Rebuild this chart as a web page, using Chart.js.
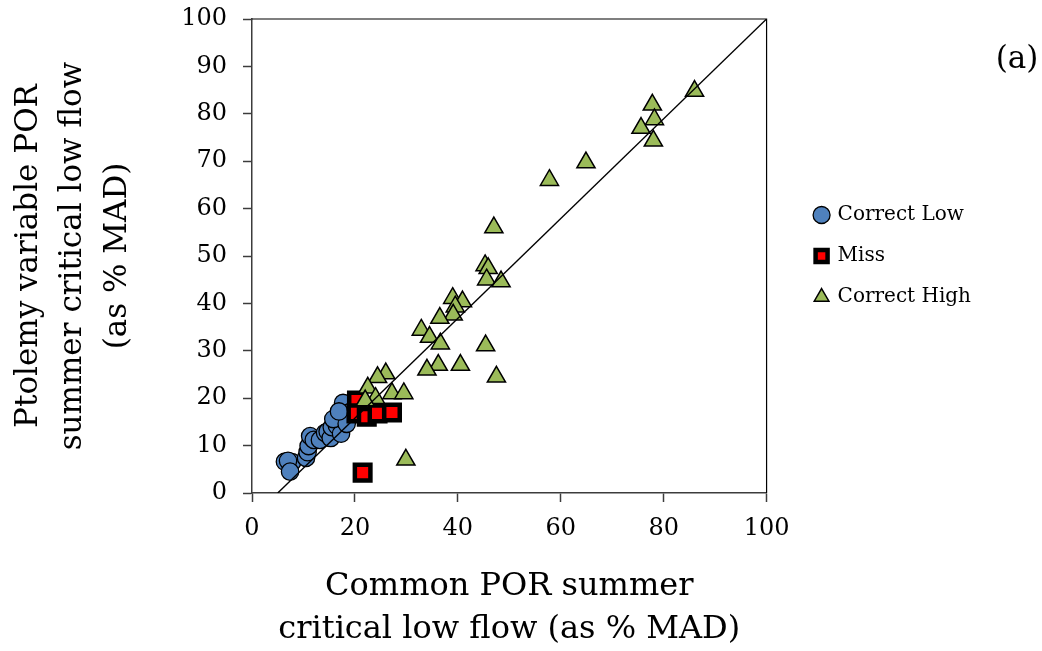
<!DOCTYPE html>
<html>
<head>
<meta charset="utf-8">
<script src="https://cdn.jsdelivr.net/npm/chart.js@4.4.1/dist/chart.umd.min.js"></script>
<style>
  html, body { margin: 0; padding: 0; background: #fff; }
  #wrap { width: 1042px; height: 651px; }
</style>
</head>
<body>
<div id="wrap"><canvas id="c" width="1042" height="651"></canvas></div>
<script>
// Critical low flow, % of mean annual discharge: common POR (x) vs Ptolemy variable POR (y)
const correctLowX = [6.4, 7.8, 7.0, 7.4, 10.5, 10.8, 11.0, 11.3, 12.0, 13.2, 14.2, 14.7, 15.3, 15.5, 16.5, 17.3, 17.5, 15.8, 17.9, 17.7, 18.6, 18.4, 16.9];
const correctLowY = [6.6, 6.5, 6.8, 4.5, 7.4, 8.6, 9.9, 12.0, 11.2, 11.2, 12.7, 13.0, 11.6, 13.9, 14.2, 12.5, 15.6, 15.6, 17.5, 19.0, 16.9, 14.6, 17.2];

const missX = [20.4, 20.3, 22.3, 24.4, 27.2, 21.5];
const missY = [19.5, 16.8, 16.1, 16.8, 17.0, 4.3];

const correctHighX = [86.0, 77.8, 78.2, 75.6, 78.0, 64.9, 57.8, 47.0, 45.3, 45.9, 45.6, 48.4, 39.0, 40.9, 39.5, 39.1, 36.5, 32.9, 34.5, 36.6, 45.4, 36.2, 34.0, 40.5, 47.5, 26.0, 24.4, 22.5, 27.2, 29.5, 24.0, 22.0, 29.9];
const correctHighY = [84.8, 81.9, 78.8, 77.0, 74.3, 69.7, 66.0, 56.0, 48.0, 47.4, 45.0, 44.6, 41.1, 40.4, 39.3, 37.6, 36.9, 34.4, 32.9, 31.5, 31.1, 27.0, 26.0, 27.0, 24.5, 25.2, 24.4, 22.2, 21.0, 21.0, 20.0, 19.5, 7.0];

// reference line end points
const refLineX = [5, 100];
const refLineY = [0, 100];

const seriesNames = ['Correct Low', 'Miss', 'Correct High'];
const xTickValues = [0, 20, 40, 60, 80, 100];
const yTickValues = [0, 10, 20, 30, 40, 50, 60, 70, 80, 90, 100];

const pairs = (xs, ys) => xs.map((x, i) => ({ x: x, y: ys[i] }));

const serif = '"DejaVu Serif", "Liberation Serif", serif';
const axisColor = '#3c3c3c';

// panel tag in the top-right corner
const panelLabel = {
  id: 'panelLabel',
  afterDraw(chart) {
    const ctx = chart.ctx;
    ctx.save();
    ctx.font = '31px ' + serif;
    ctx.fillStyle = '#000';
    ctx.textAlign = 'center';
    ctx.textBaseline = 'middle';
    ctx.fillText('(a)', 1017, 60);
    ctx.restore();
  }
};

// closes the plot box with top and right edges
const plotFrame = {
  id: 'plotFrame',
  beforeDatasetsDraw(chart) {
    const { ctx, chartArea: a } = chart;
    ctx.save();
    ctx.strokeStyle = '#000';
    ctx.lineWidth = 1.2;
    ctx.beginPath();
    ctx.moveTo(a.left, a.top);
    ctx.lineTo(a.right, a.top);
    ctx.lineTo(a.right, a.bottom);
    ctx.stroke();
    ctx.restore();
  }
};

// leaves a gap between the plot box and the legend column
const legendGap = {
  id: 'legendGap',
  afterLayout(chart) {
    const lg = chart.legend;
    if (!lg) return;
    const dx = 28;
    lg.left += dx;
    lg.right += dx;
  }
};

const chart = new Chart(document.getElementById('c'), {
  type: 'scatter',
  data: {
    datasets: [
      {
        label: seriesNames[0],
        data: pairs(correctLowX, correctLowY),
        pointStyle: 'circle',
        pointRadius: 8.7,
        backgroundColor: '#4F81BD',
        borderColor: '#000',
        borderWidth: 1.3,
        order: 3
      },
      {
        label: seriesNames[1],
        data: pairs(missX, missY),
        pointStyle: 'rect',
        pointRadius: 11,
        backgroundColor: '#FF0000',
        borderColor: '#000',
        borderWidth: 4.5,
        order: 2
      },
      {
        label: seriesNames[2],
        data: pairs(correctHighX, correctHighY),
        pointStyle: 'triangle',
        pointRadius: 10.5,
        backgroundColor: '#9BBB59',
        borderColor: '#000',
        borderWidth: 1.5,
        order: 1
      },
      {
        label: '',
        data: pairs(refLineX, refLineY),
        showLine: true,
        pointRadius: 0,
        borderColor: '#000',
        borderWidth: 1.4,
        fill: false,
        order: 0
      }
    ]
  },
  options: {
    responsive: false,
    animation: false,
    events: [],
    layout: { padding: { top: 19, right: 89, bottom: 0, left: 0 } },
    plugins: {
      tooltip: { enabled: false },
      legend: {
        position: 'right',
        align: 'center',
        fullSize: false,
        labels: {
          usePointStyle: true,
          boxWidth: 12,
          boxHeight: 12,
          padding: 21,
          color: '#000',
          font: { family: serif, size: 20 },
          filter: (item) => item.datasetIndex < 3,
          sort: (a, b) => a.datasetIndex - b.datasetIndex
        }
      }
    },
    scales: {
      x: {
        type: 'linear',
        position: 'bottom',
        min: 0,
        max: 100,
        afterBuildTicks: (s) => { s.ticks = xTickValues.map(v => ({ value: v })); },
        afterFit: (s) => { s.height = 158; },
        ticks: { color: '#000', padding: 12, font: { family: serif, size: 24 } },
        grid: { drawOnChartArea: false, drawTicks: true, tickLength: 9, color: axisColor, tickWidth: 1.5 },
        border: { display: true, color: axisColor, width: 1.5 },
        title: {
          display: true,
          text: ['Common POR summer', 'critical low flow (as % MAD)'],
          color: '#000',
          font: { family: serif, size: 32, lineHeight: 1.33 },
          padding: { top: 0, bottom: 0 }
        }
      },
      y: {
        type: 'linear',
        position: 'left',
        min: 0,
        max: 100,
        afterBuildTicks: (s) => { s.ticks = yTickValues.map(v => ({ value: v })); },
        afterFit: (s) => { s.width = 252; s.paddingTop = 0; s.paddingBottom = 0; },
        ticks: { color: '#000', padding: 16, font: { family: serif, size: 24 } },
        grid: { drawOnChartArea: false, drawTicks: true, tickLength: 9, color: axisColor, tickWidth: 1.5 },
        border: { display: true, color: axisColor, width: 1.5 },
        title: {
          display: true,
          text: ['Ptolemy variable POR', 'summer critical low flow', '(as % MAD)'],
          color: '#000',
          font: { family: serif, size: 31, lineHeight: 1.45 },
          padding: { top: 6, bottom: 0 }
        }
      }
    }
  },
  plugins: [plotFrame, legendGap, panelLabel]
});
</script>
</body>
</html>
